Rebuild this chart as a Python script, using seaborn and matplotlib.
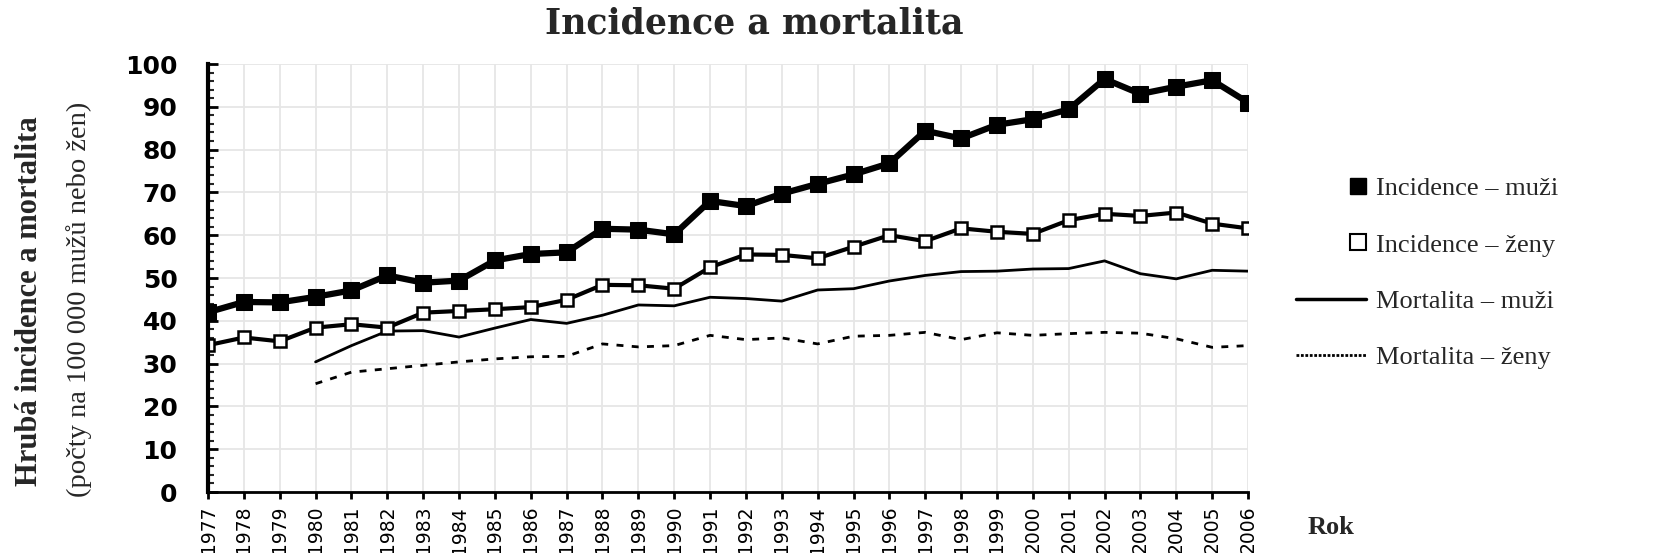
import matplotlib
matplotlib.use("Agg")
import matplotlib.pyplot as plt
import numpy as np
import seaborn as sns
from matplotlib.legend_handler import HandlerLine2D
from matplotlib.lines import Line2D
from matplotlib.ticker import MultipleLocator

years = list(range(1977, 2007))

incidence_muzi = [42.0, 44.4, 44.3, 45.6, 47.1, 50.6, 48.9, 49.4, 54.1, 55.6,
                  56.0, 61.5, 61.3, 60.2, 68.0, 66.8, 69.7, 72.0, 74.2, 76.8,
                  84.4, 82.6, 85.8, 87.1, 89.4, 96.5, 93.0, 94.7, 96.2, 91.0]
incidence_zeny = [34.3, 36.1, 35.2, 38.4, 39.2, 38.4, 41.9, 42.3, 42.7, 43.2,
                  44.9, 48.4, 48.3, 47.5, 52.5, 55.5, 55.4, 54.6, 57.3, 60.0,
                  58.6, 61.6, 60.8, 60.3, 63.5, 65.0, 64.5, 65.3, 62.7, 61.6]
mortalita_muzi = [np.nan, np.nan, np.nan, 30.4, 34.2, 37.6, 37.7, 36.2, 38.3, 40.3,
                  39.4, 41.3, 43.7, 43.5, 45.5, 45.2, 44.6, 47.2, 47.5, 49.3,
                  50.6, 51.5, 51.6, 52.1, 52.2, 54.0, 51.0, 49.8, 51.8, 51.6]
mortalita_zeny = [np.nan, np.nan, np.nan, 25.3, 28.0, 28.8, 29.6, 30.4, 31.1, 31.6,
                  31.7, 34.6, 33.9, 34.2, 36.6, 35.6, 36.0, 34.6, 36.4, 36.6,
                  37.3, 35.6, 37.2, 36.6, 37.0, 37.3, 37.1, 35.8, 33.8, 34.2]

labels = ["Incidence – muži", "Incidence – ženy", "Mortalita – muži", "Mortalita – ženy"]


class RightMarkerHandler(HandlerLine2D):
    """Single legend marker sitting at the right end of the handle box."""

    def create_artists(self, legend, orig_handle, xdescent, ydescent, width, height,
                       fontsize, trans):
        x = width - xdescent - self._marker_pad * fontsize
        y = (height - ydescent) / 2
        marker = Line2D([x], [y])
        self.update_prop(marker, orig_handle, legend)
        marker.set_transform(trans)
        return [marker]


sns.set_style("white")
plt.rcParams["font.family"] = ["DejaVu Sans"]

fig = plt.figure(figsize=(16.59, 5.53), dpi=100)
ax = fig.add_axes([208 / 1659, 1 - 492 / 553, 1040 / 1659, 428 / 553])

sns.lineplot(x=years, y=mortalita_zeny, ax=ax, color="black", linewidth=2.0,
             linestyle=(0, (2.5, 3.0)))
sns.lineplot(x=years, y=mortalita_muzi, ax=ax, color="black", linewidth=2.0)
sns.lineplot(x=years, y=incidence_zeny, ax=ax, color="black", linewidth=3.0,
             marker="s", markersize=9, markerfacecolor="white",
             markeredgecolor="black", markeredgewidth=1.8)
sns.lineplot(x=years, y=incidence_muzi, ax=ax, color="black", linewidth=4.5,
             marker="s", markersize=11, markerfacecolor="black",
             markeredgecolor="black")

ax.set_xlim(1977, 2006)
ax.set_ylim(0, 100)
ax.set_xticks(years)
ax.set_xticklabels([str(y) for y in years], rotation=90, fontsize=13.5)
ax.yaxis.set_major_locator(MultipleLocator(10))
ax.yaxis.set_minor_locator(MultipleLocator(2))
for lab in ax.get_yticklabels():
    lab.set_fontsize(18)
    lab.set_fontweight("bold")

ax.grid(True, which="major", color="#e6e6e6", linewidth=1.3)
ax.set_axisbelow(True)
for side in ["top", "right"]:
    ax.spines[side].set_visible(False)
ax.spines["left"].set_linewidth(3)
ax.spines["bottom"].set_linewidth(2)
ax.spines["left"].set_color("black")
ax.spines["bottom"].set_color("black")

ax.tick_params(axis="y", which="major", direction="in", length=7, width=2,
               pad=22, colors="black", left=True)
ax.tick_params(axis="y", which="minor", direction="in", length=4, width=1.5, left=True)
ax.tick_params(axis="x", which="major", direction="out", length=5, width=2,
               pad=5, colors="black", bottom=True)

ax.set_xlabel("Rok", fontsize=19, fontweight="bold", family="Liberation Serif")
ax.xaxis.set_label_coords((1331 - 208) / 1040, (492 - 528) / 428)
ax.xaxis.label.set_va("center")
ax.set_ylabel("")

fig.text(30 / 1659, 1 - 301 / 553, "Hrubá incidence a mortalita", rotation=90,
         ha="center", va="center", fontsize=22, fontweight="bold",
         family="Liberation Serif")
fig.text(79 / 1659, 1 - 299 / 553, "(počty na 100 000 mužů nebo žen)", rotation=90,
         ha="center", va="center", fontsize=20.5, family="Liberation Serif")

fig.text(754 / 1659, 1 - 23 / 553, "Incidence a mortalita", ha="center", va="center",
         fontsize=25, fontweight="bold", family="DejaVu Serif")

muzi_handle = Line2D([], [], linestyle="none", marker="s", markersize=11,
                     markerfacecolor="black", markeredgecolor="black")
zeny_handle = Line2D([], [], linestyle="none", marker="s", markersize=11,
                     markerfacecolor="white", markeredgecolor="black", markeredgewidth=1.5)
handles = [
    muzi_handle,
    zeny_handle,
    Line2D([], [], color="black", linewidth=2.5),
    Line2D([], [], color="black", linewidth=2.0, linestyle=(0, (1.0, 0.6))),
]
fig.legend(handles, labels, loc="center left", bbox_to_anchor=(1296 / 1659, 1 - 273 / 553),
           frameon=False, borderpad=0, borderaxespad=0, handlelength=2.64,
           handletextpad=0.4, labelspacing=1.25,
           handler_map={muzi_handle: RightMarkerHandler(), zeny_handle: RightMarkerHandler()},
           prop={"family": "Liberation Serif", "size": 19})

fig.savefig("out.png", dpi=100)
